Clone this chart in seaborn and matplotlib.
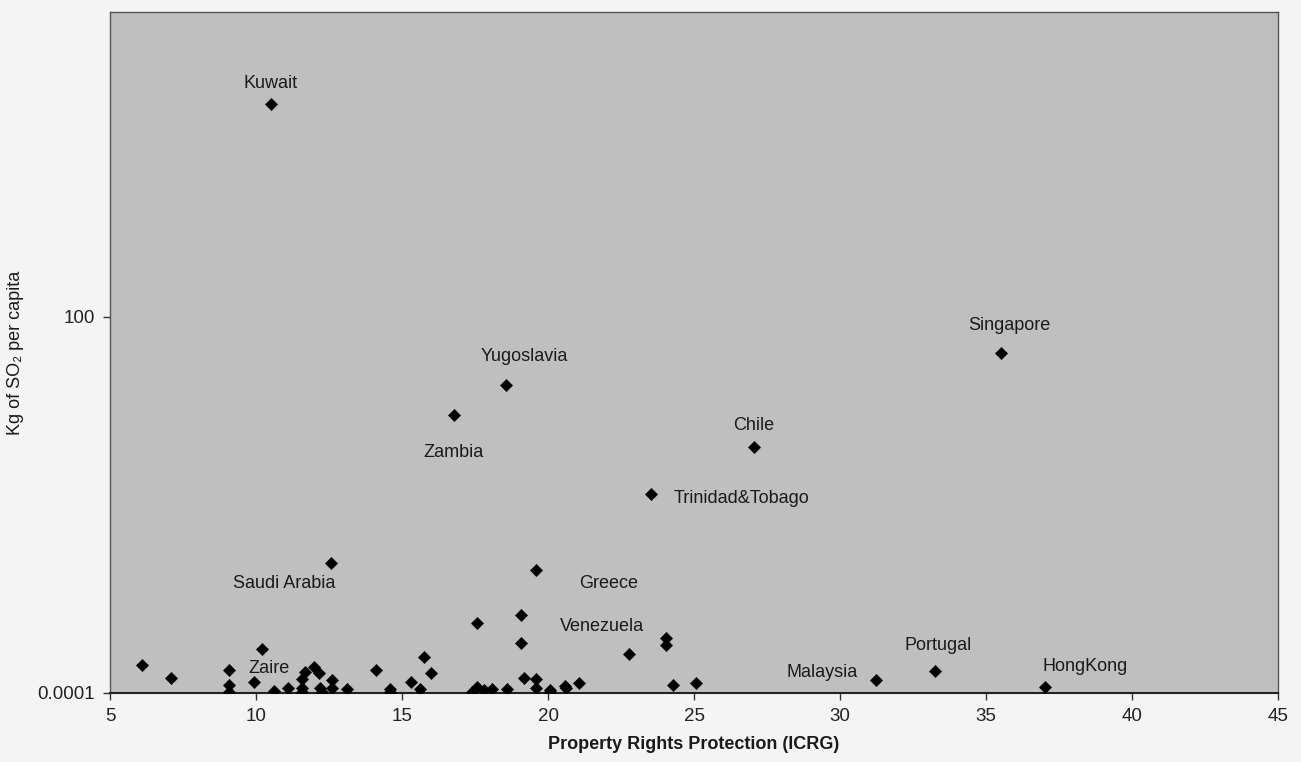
import numpy as np
import pandas as pd
import matplotlib
matplotlib.use("Agg")
import matplotlib.pyplot as plt
import seaborn as sns

# Property rights (ICRG) vs. SO2 emissions per capita
icrg = [10.52, 35.53, 18.57, 16.77, 27.05, 23.52, 12.58, 19.58, 17.58, 19.07,
        19.07, 22.76, 24.04, 24.04, 24.27, 25.07, 31.24, 33.27, 37.02, 6.09,
        7.08, 9.08, 9.08, 9.08, 10.20, 9.92, 10.60, 11.08, 11.69, 11.97,
        12.15, 11.58, 11.58, 11.58, 12.20, 12.26, 12.60, 12.60, 13.12, 14.11,
        14.58, 14.60, 15.29, 15.61, 15.75, 16.00, 17.41, 17.58, 17.81, 18.09,
        18.60, 19.18, 19.58, 19.58, 20.06, 20.06, 20.57, 20.61, 21.07]
so2 = [2.45e5, 26.3, 8.1, 2.7, 0.83, 0.148, 1.17e-2, 9.1e-3, 1.32e-3, 1.78e-3,
       6.2e-4, 4.2e-4, 7.6e-4, 5.9e-4, 1.32e-4, 1.42e-4, 1.62e-4, 2.28e-4, 1.23e-4, 2.8e-4,
       1.74e-4, 2.34e-4, 1.34e-4, 1.05e-4, 5.1e-4, 1.51e-4, 1.09e-4, 1.2e-4, 2.19e-4, 2.63e-4,
       2.09e-4, 1.7e-4, 1.18e-4, 1.05e-4, 1.18e-4, 1.05e-4, 1.62e-4, 1.18e-4, 1.15e-4, 2.34e-4,
       1.15e-4, 1.05e-4, 1.51e-4, 1.15e-4, 3.7e-4, 2.09e-4, 1.05e-4, 1.23e-4, 1.12e-4, 1.15e-4,
       1.14e-4, 1.74e-4, 1.7e-4, 1.18e-4, 1.1e-4, 1.03e-4, 1.31e-4, 1.2e-4, 1.46e-4]

# labelled countries: index into the arrays above
labels = {
    "Kuwait": 0, "Singapore": 1, "Yugoslavia": 2, "Zambia": 3, "Chile": 4,
    "Trinidad&Tobago": 5, "Saudi Arabia": 6, "Greece": 7, "Venezuela": 11,
    "Malaysia": 16, "Portugal": 17, "HongKong": 18, "Zaire": 24,
}
# label offsets from their point, in pixels (dx, dy, ha)
offsets = {
    "Kuwait": (-1, 21, "center"), "Singapore": (8, 28, "center"),
    "Yugoslavia": (18, 29, "center"), "Zambia": (0, -37, "center"),
    "Chile": (0, 22, "center"), "Trinidad&Tobago": (23, -4, "left"),
    "Saudi Arabia": (-47, -20, "center"), "Greece": (73, -13, "center"),
    "Venezuela": (-27, 27, "center"), "Malaysia": (-54, 7, "center"),
    "Portugal": (3, 25, "center"), "HongKong": (40, 21, "center"),
    "Zaire": (7, -20, "center"),
}

df = pd.DataFrame({"icrg": icrg, "so2": so2})

sns.set_style("white")
plt.rcParams['font.family'] = ['Liberation Sans', 'DejaVu Sans']

fig = plt.figure(figsize=(13.01, 7.62), dpi=100, facecolor='#f4f4f4')
ax = fig.add_axes([0.0846, 0.0906, 0.8977, 0.8937])
ax.set_facecolor('#bfbfbf')

sns.scatterplot(data=df, x="icrg", y="so2", marker="D", s=40, color="black",
                edgecolor="black", linewidth=0.3, ax=ax, zorder=3)

ax.set_yscale("log")
ax.set_xlim(5, 45)
ax.set_ylim(1e-4, 10 ** 6.86)
ax.set_xticks(np.arange(5, 46, 5))
ax.set_yticks([1e-4, 100])
ax.set_yticklabels(["0.0001", "100"])
ax.minorticks_off()
ax.tick_params(axis='both', direction='out', length=5, width=1, color='#333333',
               labelsize=13.5, labelcolor='#222222', left=True, bottom=True, pad=6)

for side in ['left', 'right', 'top']:
    ax.spines[side].set_color('#555555')
    ax.spines[side].set_linewidth(1)
ax.spines['bottom'].set_color('#222222')
ax.spines['bottom'].set_linewidth(1.5)

for name, idx in labels.items():
    dx, dy, ha = offsets[name]
    ax.annotate(name, (icrg[idx], so2[idx]), xytext=(dx, dy),
                textcoords='offset pixels', ha=ha, va='center',
                fontsize=13, color='#1a1a1a')

ax.set_xlabel("Property Rights Protection (ICRG)", fontsize=13, fontweight='bold',
              color='#1a1a1a', labelpad=8)
ax.set_ylabel("Kg of SO\u2082 per capita", fontsize=13, color='#1a1a1a')
ax.yaxis.set_label_coords(-0.074, 0.5)

fig.savefig("out.png", dpi=100, facecolor=fig.get_facecolor())
